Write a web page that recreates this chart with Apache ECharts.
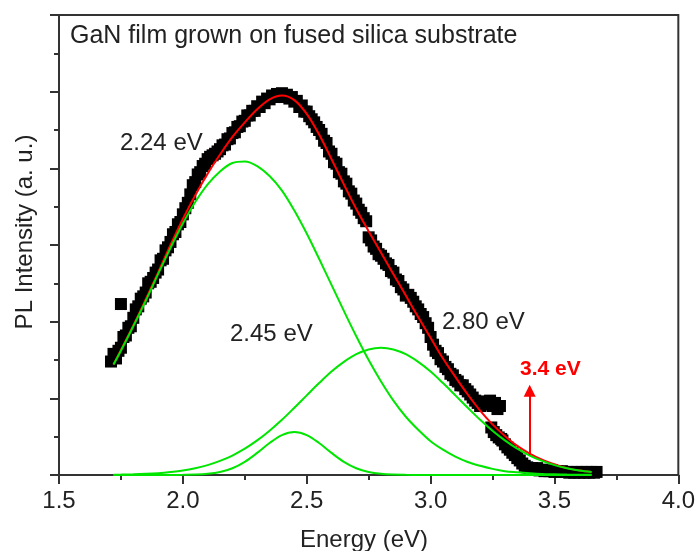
<!DOCTYPE html>
<html><head><meta charset="utf-8">
<script src="https://cdn.jsdelivr.net/npm/echarts@6/dist/echarts.min.js"></script>
<style>html,body{margin:0;padding:0;background:#fff}#c{width:698px;height:551px}</style>
</head><body><div id="c"></div><script>
// ---- fitted curves (energy in eV, intensity in arbitrary units) ----
const fitEnergy = [1.72,1.75,1.80,1.85,1.90,1.95,2.00,2.05,2.10,2.15,2.20,2.25,2.30,2.35,2.40,2.45,2.50,2.55,2.60,2.65,2.70,2.75,2.80,2.85,2.90,2.95,3.00,3.05,3.10,3.15,3.20,3.25,3.30,3.35,3.40,3.45,3.50,3.55,3.60,3.65];
const fitTotal = [1.44,1.63,1.95,2.29,2.64,3.00,3.34,3.65,3.93,4.18,4.41,4.60,4.77,4.90,4.95,4.89,4.71,4.44,4.12,3.79,3.47,3.18,2.90,2.62,2.34,2.06,1.79,1.52,1.28,1.05,0.84,0.66,0.51,0.38,0.28,0.20,0.14,0.09,0.06,0.04];
const peak224 = [1.44,1.62,1.94,2.27,2.62,2.96,3.28,3.56,3.79,3.96,4.07,4.09,4.03,3.90,3.71,3.45,3.15,2.82,2.48,2.14,1.81,1.50,1.22,0.97,0.76,0.59,0.44,0.33,0.24,0.17,0.12,0.08,0.05,0.035,0.023,0.014,0.009,0.005,0.003,0.002];
const peak245 = [0,0,0,0,0,0.001,0.002,0.005,0.015,0.039,0.088,0.172,0.288,0.417,0.52,0.56,0.52,0.417,0.288,0.172,0.088,0.039,0.015,0.005,0.002,0.001,0,0,0,0,0,0,0,0,0,0,0,0,0,0];
const peak280 = [0.004,0.005,0.009,0.015,0.024,0.039,0.059,0.089,0.129,0.184,0.254,0.343,0.451,0.578,0.72,0.877,1.039,1.199,1.35,1.476,1.576,1.638,1.66,1.638,1.576,1.476,1.35,1.199,1.039,0.877,0.72,0.578,0.451,0.343,0.254,0.184,0.129,0.089,0.059,0.039];

// ---- measured PL spectrum ----
const measuredEnergy = [
1.71,1.72,1.73,1.74,1.75,1.76,1.77,1.78,1.79,1.80,
1.81,1.82,1.83,1.84,1.85,1.86,1.87,1.88,1.89,1.90,
1.91,1.92,1.93,1.94,1.95,1.96,1.97,1.98,1.99,2.00,
2.01,2.02,2.03,2.04,2.05,2.06,2.07,2.08,2.09,2.10,
2.11,2.12,2.13,2.14,2.15,2.16,2.17,2.18,2.19,2.20,
2.21,2.22,2.23,2.24,2.25,2.26,2.27,2.28,2.29,2.30,
2.31,2.32,2.33,2.34,2.35,2.36,2.37,2.38,2.39,2.40,
2.41,2.42,2.43,2.44,2.45,2.46,2.47,2.48,2.49,2.50,
2.51,2.52,2.53,2.54,2.55,2.56,2.57,2.58,2.59,2.60,
2.61,2.62,2.63,2.64,2.65,2.66,2.67,2.68,2.69,2.70,
2.71,2.72,2.73,2.74,2.75,2.76,2.77,2.78,2.79,2.80,
2.81,2.82,2.83,2.84,2.85,2.86,2.87,2.88,2.89,2.90,
2.91,2.92,2.93,2.94,2.95,2.96,2.97,2.98,2.99,3.00,
3.01,3.02,3.03,3.04,3.05,3.06,3.07,3.08,3.09,3.10,
3.11,3.12,3.13,3.14,3.15,3.16,3.17,3.18,3.19,3.20,
3.21,3.22,3.23,3.24,3.25,3.26,3.27,3.28,3.29,3.30,
3.31,3.32,3.33,3.34,3.35,3.36,3.37,3.38,3.39,3.40,
3.41,3.42,3.43,3.44,3.45,3.46,3.47,3.48,3.49,3.50,
3.51,3.52,3.53,3.54,3.55,3.56,3.57,3.58,3.59,3.60,
3.61,3.62,3.63,3.64,3.65,3.66,3.67,
1.75,3.245,3.255,3.265,3.275,3.285];
const measuredIntensity = [
1.48,1.58,1.52,1.62,1.66,1.80,1.82,1.92,1.94,2.05,
2.16,2.20,2.30,2.33,2.38,2.50,2.52,2.57,2.64,2.68,
2.80,2.82,2.93,2.97,3.04,3.14,3.17,3.27,3.30,3.40,
3.48,3.55,3.66,3.78,3.82,3.92,3.95,4.03,4.06,4.12,
4.15,4.17,4.19,4.22,4.25,4.30,4.31,4.38,4.39,4.46,
4.47,4.54,4.55,4.61,4.62,4.69,4.69,4.75,4.75,4.81,
4.80,4.87,4.85,4.91,4.90,4.95,4.93,4.97,4.94,4.98,
4.93,4.96,4.91,4.93,4.87,4.88,4.80,4.82,4.74,4.74,
4.68,4.64,4.60,4.54,4.50,4.45,4.36,4.33,4.22,4.19,
4.08,4.06,3.95,3.93,3.83,3.80,3.70,3.67,3.58,3.54,
3.46,3.42,3.35,3.31,3.10,3.06,2.98,2.95,2.88,2.86,
2.82,2.76,2.74,2.66,2.64,2.55,2.53,2.45,2.42,2.34,
2.35,2.31,2.26,2.20,2.16,2.10,2.06,1.98,1.92,1.80,
1.70,1.62,1.59,1.51,1.48,1.41,1.38,1.32,1.30,1.24,
1.22,1.17,1.17,1.12,1.09,1.05,1.01,0.97,0.94,0.90,
0.93,0.96,0.92,0.97,0.90,0.94,0.86,0.90,0.45,0.40,
0.36,0.33,0.29,0.26,0.22,0.19,0.15,0.12,0.10,0.09,
0.09,0.07,0.09,0.06,0.07,0.05,0.06,0.05,0.06,0.04,
0.05,0.04,0.05,0.04,0.04,0.03,0.04,0.03,0.04,0.03,
0.04,0.03,0.04,0.03,0.04,0.03,0.04,
2.23,0.62,0.56,0.52,0.49,0.47];

// ---- annotations ----
const xTickLabels = ['1.5','2.0','2.5','3.0','3.5','4.0'];
const arrowEnergy = 3.4, arrowFrom = 0.26, arrowTo = 1.10;
const titleText = 'GaN film grown on fused silica substrate';
const peakLabels = ['2.24 eV','2.45 eV','2.80 eV'];
const edgeLabel = '3.4 eV';

const FONT = '"Liberation Sans", Arial, Helvetica, sans-serif';
const AX = '#333';
const pairs = (xs, ys) => xs.map((x, i) => [x, ys[i]]);

const chart = echarts.init(document.getElementById('c'));
const lineSeries = (data, color, z) => ({
  type: 'line', data, symbol: 'none', smooth: 0.35, z,
  lineStyle: { color, width: 2 }, silent: true, animation: false
});

chart.setOption({
  animation: false,
  grid: { left: 59, right: 18, top: 15, bottom: 76, show: true, borderColor: AX, borderWidth: 2, backgroundColor: 'transparent' },
  xAxis: {
    type: 'value', min: 1.5, max: 4.0, interval: 0.5,
    axisLine: { show: true, onZero: false, lineStyle: { color: AX, width: 2 } },
    axisTick: { show: true, inside: false, length: 9, lineStyle: { color: AX, width: 2 } },
    minorTick: { show: true, splitNumber: 2, length: 5, lineStyle: { color: AX, width: 2 } },
    splitLine: { show: false }, minorSplitLine: { show: false },
    axisLabel: { fontSize: 24, fontFamily: FONT, color: '#222', margin: 14, lineHeight: 24,
      formatter: v => xTickLabels[Math.round((v - 1.5) / 0.5)] || v.toFixed(1) }
  },
  yAxis: {
    type: 'value', min: 0, max: 6, interval: 1,
    axisLine: { show: true, onZero: false, lineStyle: { color: AX, width: 2 } },
    axisTick: { show: true, inside: false, length: 9, lineStyle: { color: AX, width: 2 } },
    minorTick: { show: true, splitNumber: 2, length: 5, lineStyle: { color: AX, width: 2 } },
    splitLine: { show: false }, minorSplitLine: { show: false },
    axisLabel: { show: false }
  },
  series: [
    { type: 'scatter', data: pairs(measuredEnergy, measuredIntensity), symbol: 'rect', symbolSize: 12,
      itemStyle: { color: '#000', opacity: 1 }, z: 2, silent: true, large: false },
    Object.assign(lineSeries(pairs(fitEnergy, fitTotal), '#ff0000', 3), {
      markLine: {
        silent: true, symbol: ['none', 'triangle'], symbolSize: 12,
        lineStyle: { color: '#ff0000', width: 2, type: 'solid' },
        label: { show: false },
        data: [[{ coord: [arrowEnergy, arrowFrom] }, { coord: [arrowEnergy, arrowTo] }]]
      }
    }),
    lineSeries(pairs(fitEnergy, peak224), '#00e600', 4),
    lineSeries(pairs(fitEnergy, peak245), '#00e600', 4),
    lineSeries(pairs(fitEnergy, peak280), '#00e600', 4)
  ],
  graphic: [
    { type: 'text', x: 70, y: 36, style: { text: titleText, font: '25px ' + FONT, fill: '#222', textVerticalAlign: 'middle' } },
    { type: 'text', x: 120, y: 143.5, style: { text: peakLabels[0], font: '24px ' + FONT, fill: '#222', textVerticalAlign: 'middle' } },
    { type: 'text', x: 230, y: 334, style: { text: peakLabels[1], font: '24px ' + FONT, fill: '#222', textVerticalAlign: 'middle' } },
    { type: 'text', x: 442, y: 322.5, style: { text: peakLabels[2], font: '24px ' + FONT, fill: '#222', textVerticalAlign: 'middle' } },
    { type: 'text', x: 520, y: 369.5, style: { text: edgeLabel, font: 'bold 21px ' + FONT, fill: '#ff0000', textVerticalAlign: 'middle' } },
    { type: 'text', x: 364, y: 540, style: { text: 'Energy (eV)', font: '24px ' + FONT, fill: '#222', textAlign: 'center', textVerticalAlign: 'middle' } },
    { type: 'text', x: 25, y: 232, rotation: Math.PI / 2, style: { text: 'PL Intensity (a. u.)', font: '24px ' + FONT, fill: '#222', textAlign: 'center', textVerticalAlign: 'middle' } }
  ]
});
</script></body></html>
